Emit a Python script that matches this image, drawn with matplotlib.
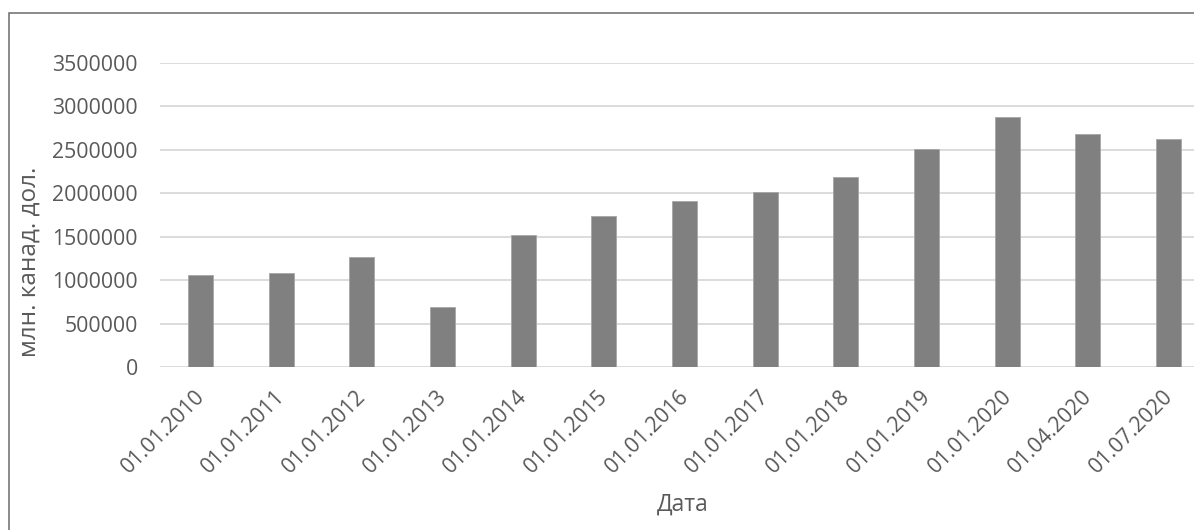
import numpy as np
import matplotlib
matplotlib.use("Agg")
import matplotlib.pyplot as plt
import matplotlib.transforms as mtransforms
from matplotlib.patches import Rectangle

# даты и объёмы
dates = ["01.01.2010", "01.01.2011", "01.01.2012", "01.01.2013", "01.01.2014",
         "01.01.2015", "01.01.2016", "01.01.2017", "01.01.2018", "01.01.2019",
         "01.01.2020", "01.04.2020", "01.07.2020"]
values = [1055000, 1080000, 1262000, 692000, 1516000, 1742000, 1911000,
          2015000, 2188000, 2511000, 2877000, 2680000, 2626000]
yticks = [0, 500000, 1000000, 1500000, 2000000, 2500000, 3000000, 3500000]

plt.rcParams['font.family'] = ['Open Sans', 'DejaVu Sans']
txt = '#595959'

fig = plt.figure(figsize=(11.94, 5.30), dpi=100)
ax = fig.add_axes([160 / 1194, 1 - 367 / 530, 1049 / 1194, 304 / 530])

x = np.arange(len(dates))
ax.bar(x, values, width=0.31, color='#808080', edgecolor='#a6a6a6',
       linewidth=0.6, zorder=3)

ax.set_xlim(-0.5, len(dates) - 0.5)
ax.set_ylim(0, 3500000)
ax.set_yticks(yticks)
ax.set_yticklabels([str(v) for v in yticks])
ax.yaxis.grid(True, color='#d9d9d9', linewidth=1.3, zorder=0)
ax.set_axisbelow(True)
for s in ax.spines.values():
    s.set_visible(False)
ax.tick_params(axis='both', length=0, colors=txt)
ax.tick_params(axis='y', pad=16, labelsize=15.3)

ax.set_xticks(x)
ax.set_xticklabels(dates, rotation=45, ha='right', va='center',
                   rotation_mode='anchor', fontsize=15.3)
ax.tick_params(axis='x', pad=19)
shift = mtransforms.ScaledTranslation(1 / 100, 0, fig.dpi_scale_trans)
for lab in ax.get_xticklabels():
    lab.set_transform(lab.get_transform() + shift)

fig.text(30 / 1194, 1 - 262 / 530, 'млн. канад. дол.', rotation=90,
         ha='center', va='center', fontsize=17.5, color=txt)
fig.text(683 / 1194, 1 - 505 / 530, 'Дата', ha='center', va='center',
         fontsize=16.5, color=txt)

# рамка области диаграммы
fig.patches.append(Rectangle((9 / 1194, -0.1), 1.2, 1 - 13 / 530 + 0.1,
                             transform=fig.transFigure, fill=False,
                             edgecolor='#6b6b6b', linewidth=1.1))

fig.savefig('out.png', dpi=100)
